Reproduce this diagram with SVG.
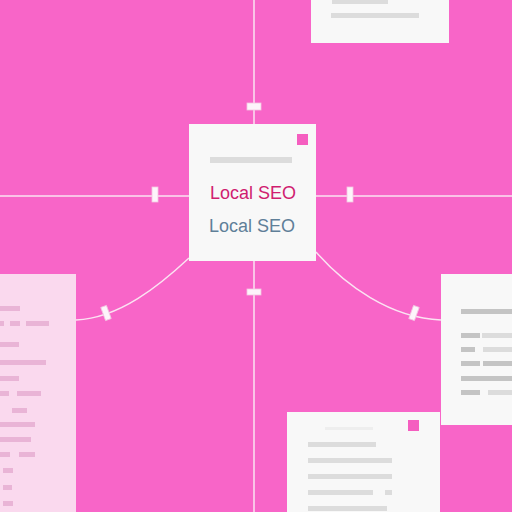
<svg xmlns="http://www.w3.org/2000/svg" width="512" height="512" viewBox="0 0 512 512">
<defs>
<style>
.card{fill:#f8f8f8}
.bar{fill:#dcdcdc}
.dbar{fill:#c4c4c4}
.pbar{fill:#e9b4d6}
.line{stroke:#fbe3f2;stroke-width:1.5;fill:none}
.handle{fill:#fdf4fa;stroke:#f2c6e2;stroke-width:0.8}
.accent{fill:#f55ec0}
.t{font-family:"Liberation Sans",Arial,sans-serif;font-size:18px;text-anchor:middle}
</style>
</defs>
<rect width="512" height="512" fill="#f865c8"/>
<g id="connectors">
<line class="line" x1="254" y1="0" x2="254" y2="512"/>
<line class="line" x1="0" y1="196" x2="512" y2="196"/>
<path class="line" d="M189,258 C160,285 120,318 76,320"/>
<path class="line" d="M316,252 C345,285 390,318 441,320"/>
<rect class="handle" x="247" y="103" width="14" height="7"/>
<rect class="handle" x="152" y="187" width="6" height="15"/>
<rect class="handle" x="347" y="187" width="6" height="15"/>
<rect class="handle" x="247" y="289" width="14" height="6"/>
<rect class="handle" x="103" y="306" width="6" height="14" transform="rotate(-20 106 313)"/>
<rect class="handle" x="411" y="306" width="6" height="14" transform="rotate(20 414 313)"/>
</g>
<g id="top-card">
<rect class="card" x="311" y="-4" width="138" height="47"/>
<rect class="bar" x="332" y="0" width="56" height="4"/>
<rect class="bar" x="331" y="13" width="88" height="5"/>
</g>
<g id="center-card">
<rect class="card" x="189" y="124" width="127" height="137"/>
<rect class="accent" x="297" y="134" width="11" height="11"/>
<rect class="bar" x="210" y="157" width="82" height="6"/>
<text class="t" x="253" y="199" fill="#d01d70">Local SEO</text>
<text class="t" x="252" y="232" fill="#5f7f98">Local SEO</text>
</g>
<g id="left-card">
<rect x="-2" y="274" width="78" height="240" fill="#fad9ee"/>
<rect class="pbar" x="0" y="306" width="20" height="5"/>
<rect class="pbar" x="0" y="321" width="4" height="5"/>
<rect class="pbar" x="10" y="321" width="10" height="5"/>
<rect class="pbar" x="26" y="321" width="23" height="5"/>
<rect class="pbar" x="0" y="342" width="19" height="5"/>
<rect class="pbar" x="0" y="360" width="46" height="5"/>
<rect class="pbar" x="0" y="376" width="19" height="5"/>
<rect class="pbar" x="0" y="391" width="9" height="5"/>
<rect class="pbar" x="17" y="391" width="24" height="5"/>
<rect class="pbar" x="12" y="408" width="15" height="5"/>
<rect class="pbar" x="0" y="422" width="35" height="5"/>
<rect class="pbar" x="0" y="437" width="31" height="5"/>
<rect class="pbar" x="0" y="452" width="10" height="5"/>
<rect class="pbar" x="19" y="452" width="16" height="5"/>
<rect class="pbar" x="3" y="468" width="10" height="5"/>
<rect class="pbar" x="3" y="485" width="9" height="5"/>
<rect class="pbar" x="3" y="501" width="10" height="5"/>
</g>
<g id="right-card">
<rect class="card" x="441" y="274" width="73" height="151"/>
<rect class="dbar" x="461" y="309" width="51" height="5"/>
<rect class="dbar" x="461" y="333" width="19" height="5"/>
<rect class="bar" x="482" y="333" width="30" height="5"/>
<rect class="dbar" x="461" y="347" width="14" height="5"/>
<rect class="bar" x="483" y="347" width="29" height="5"/>
<rect class="dbar" x="461" y="361" width="19" height="5"/>
<rect class="dbar" x="483" y="361" width="29" height="5"/>
<rect class="dbar" x="461" y="376" width="51" height="5"/>
<rect class="dbar" x="461" y="390" width="19" height="5"/>
<rect class="bar" x="488" y="390" width="24" height="5"/>
</g>
<g id="bottom-card">
<rect class="card" x="287" y="412" width="153" height="102"/>
<rect class="accent" x="408" y="420" width="11" height="11"/>
<rect fill="#eeeeee" x="325" y="427" width="48" height="3"/>
<rect class="bar" x="308" y="442" width="68" height="5"/>
<rect class="bar" x="308" y="458" width="84" height="5"/>
<rect class="bar" x="308" y="474" width="84" height="5"/>
<rect class="bar" x="308" y="490" width="65" height="5"/>
<rect class="bar" x="385" y="490" width="7" height="5"/>
<rect class="bar" x="308" y="506" width="79" height="5"/>
</g>
</svg>
